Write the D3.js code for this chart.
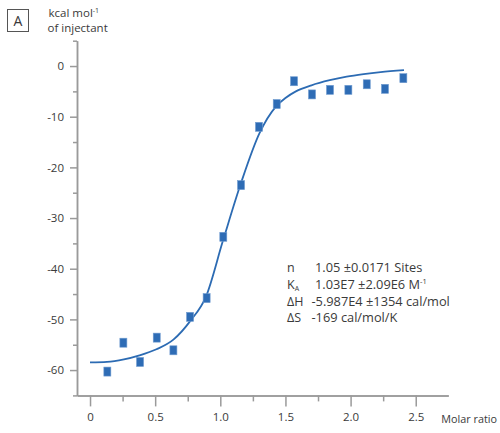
<!DOCTYPE html>
<html><head><meta charset="utf-8">
<script src="https://cdn.jsdelivr.net/npm/d3@7"></script>
<style>
html,body{margin:0;padding:0;background:#fff;}
text{font-family:"Open Sans",sans-serif;fill:#3a3a3a;}
</style></head>
<body><svg id="c" width="500" height="433"></svg>
<script>
// Data
const molarRatio = [0.133,0.256,0.384,0.512,0.640,0.768,0.895,1.023,1.159,1.297,1.433,1.566,1.704,1.842,1.983,2.124,2.264,2.405];
const heat = [-60.3,-54.6,-58.4,-53.6,-56.1,-49.5,-45.8,-33.7,-23.5,-12.0,-7.5,-3.0,-5.6,-4.7,-4.7,-3.6,-4.5,-2.4];
const fitX = [0.00,0.13,0.26,0.38,0.51,0.64,0.77,0.89,1.02,1.16,1.30,1.43,1.50,1.58,1.70,1.84,1.97,2.10,2.23,2.41];
const fitY = [-58.5,-58.4,-57.9,-57.1,-55.9,-54.0,-50.3,-45.5,-34.5,-23.0,-13.3,-7.9,-6.3,-5.0,-3.8,-2.8,-2.1,-1.6,-1.2,-0.8];
const xMajor = [0,0.5,1.0,1.5,2.0,2.5];
const xMinor = [0.25,0.75,1.25,1.75,2.25];
const xLabels = ["0","0.5","1.0","1.5","2.0","2.5"];
const yMajor = [0,-10,-20,-30,-40,-50,-60];
const yLabels = ["0","-10","-20","-30","-40","-50","-60"];
const yMinor = [5,-5,-15,-25,-35,-45,-55,-65];
const stats = [
  {label:"n", sub:"", value:"1.05 \u00b10.0171 Sites", sup:""},
  {label:"K", sub:"A", value:"1.03E7 \u00b12.09E6 M", sup:"-1"},
  {label:"\u0394H", sub:"", value:"-5.987E4 \u00b11354 cal/mol", sup:""},
  {label:"\u0394S", sub:"", value:"-169 cal/mol/K", sup:""}
];

const svg = d3.select("#c");
const x = d3.scaleLinear().domain([-0.1,2.75]).range([77,448.3]);
const y = d3.scaleLinear().domain([5,-65]).range([40.7,395.4]);
const axisCol = "#9a9a9a";

// minor ticks (no labels)
const gxm = svg.append("g").attr("transform",`translate(0,${y(-65)})`)
  .call(d3.axisBottom(x).tickValues(xMinor).tickSize(6).tickSizeOuter(0).tickFormat(""));
const gym = svg.append("g").attr("transform",`translate(${x(-0.1)},0)`)
  .call(d3.axisLeft(y).tickValues(yMinor).tickSize(4).tickSizeOuter(0).tickFormat(""));
// major
const gx = svg.append("g").attr("transform",`translate(0,${y(-65)})`)
  .call(d3.axisBottom(x).tickValues(xMajor).tickSize(11).tickSizeOuter(0).tickPadding(6)
    .tickFormat((d,i)=>xLabels[i]));
const gy = svg.append("g").attr("transform",`translate(${x(-0.1)},0)`)
  .call(d3.axisLeft(y).tickValues(yMajor).tickSize(7).tickSizeOuter(0).tickPadding(6)
    .tickFormat((d,i)=>yLabels[i]));
[gxm,gym,gx,gy].forEach(g=>{
  g.selectAll("path.domain").attr("stroke",axisCol).attr("stroke-width",1.5);
  g.selectAll(".tick line").attr("stroke",axisCol).attr("stroke-width",1.5);
  g.selectAll(".tick text").style("font-size","11.5px").attr("fill","#3a3a3a");
});

// fit line
const line = d3.line().x((d,i)=>x(fitX[i])).y(d=>y(d)).curve(d3.curveMonotoneX);
svg.append("path").datum(fitY).attr("d",line).attr("fill","none")
  .attr("stroke","#2c6bb3").attr("stroke-width",1.8);

// points
svg.append("g").selectAll("rect").data(heat).join("rect")
  .attr("x",(d,i)=>x(molarRatio[i])-3.5).attr("y",d=>y(d)-4.5)
  .attr("width",7).attr("height",9)
  .attr("fill","#2e6cb5").attr("stroke","#6f9bd0").attr("stroke-width",0.6);

// panel label
svg.append("rect").attr("x",7.5).attr("y",9.5).attr("width",21).attr("height",22)
  .attr("fill","none").attr("stroke","#555").attr("stroke-width",1);
svg.append("text").attr("x",18).attr("y",25.5).attr("text-anchor","middle")
  .style("font-size","14px").text("A");

// y title
const yt = svg.append("text").attr("x",48.5).attr("y",17).style("font-size","11.5px");
yt.append("tspan").text("kcal mol");
yt.append("tspan").attr("dy",-4).style("font-size","7px").text("-1");
svg.append("text").attr("x",47.5).attr("y",32).style("font-size","11.5px").text("of injectant");

// x title
svg.append("text").attr("x",497).attr("y",423).attr("text-anchor","end")
  .style("font-size","10.8px").text("Molar ratio");

// stats
const sg = svg.append("g");
stats.forEach((s,i)=>{
  const by = 272 + i*16.8;
  const t = sg.append("text").attr("x",287).attr("y",by).style("font-size","12.5px");
  t.append("tspan").text(s.label);
  if(s.sub) t.append("tspan").attr("dy",1.8).style("font-size","7px").text(s.sub);
  const neg = s.value.startsWith("-");
  const v = sg.append("text").attr("x",neg?311.5:315).attr("y",by).style("font-size","12.8px");
  v.append("tspan").text(s.value);
  if(s.sup) v.append("tspan").attr("dy",-5).style("font-size","7.5px").text(s.sup);
});
</script></body></html>
